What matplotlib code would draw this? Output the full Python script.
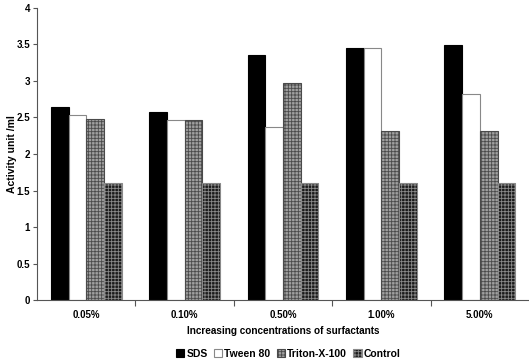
import matplotlib
matplotlib.use("Agg")
import matplotlib.pyplot as plt
import numpy as np

categories = ["0.05%", "0.10%", "0.50%", "1.00%", "5.00%"]
series_names = ["SDS", "Tween 80", "Triton-X-100", "Control"]
sds = [2.65, 2.58, 3.35, 3.45, 3.49]
tween = [2.54, 2.47, 2.37, 3.45, 2.82]
triton = [2.48, 2.47, 2.97, 2.32, 2.31]
control = [1.6, 1.6, 1.6, 1.6, 1.6]

plt.rcParams['font.family'] = ['Liberation Sans', 'DejaVu Sans']
plt.rcParams['hatch.linewidth'] = 0.6

fig = plt.figure(figsize=(5.29, 3.59), dpi=100)
ax = fig.add_axes([0.070, 0.164, 0.930, 0.814])

x = np.arange(len(categories))
w = 0.18
styles = [
    dict(facecolor="black", edgecolor="black", hatch=None),
    dict(facecolor="white", edgecolor="#888888", hatch=None),
    dict(facecolor="#a0a0a0", edgecolor="#4a4a4a", hatch="+++++"),
    dict(facecolor="#1a1a1a", edgecolor="#8a8a8a", hatch="+++++"),
]
data = [sds, tween, triton, control]
bars = []
for i, (vals, st) in enumerate(zip(data, styles)):
    b = ax.bar(x + (i - 1.5) * w, vals, w, facecolor=st["facecolor"],
               edgecolor=st["edgecolor"], hatch=st["hatch"], linewidth=0.8,
               label=series_names[i])
    bars.append(b)

ax.set_xlim(-0.5, len(categories) - 0.5)
ax.set_ylim(0, 4)
ax.set_yticks(np.arange(0, 4.01, 0.5))
ax.set_yticklabels(["0", "0.5", "1", "1.5", "2", "2.5", "3", "3.5", "4"],
                   fontsize=7, fontweight="bold")
ax.set_xticks(np.arange(0.5, len(categories) - 0.5, 1.0))
ax.set_xticklabels([])
ax.set_xticks(x, minor=True)
ax.set_xticklabels(categories, minor=True, fontsize=7, fontweight="bold")
ax.tick_params(axis="x", which="minor", length=0, pad=7)
ax.tick_params(axis="x", which="major", length=4, direction="out", color="#555555")
ax.tick_params(axis="y", length=3, direction="out", color="#555555", pad=2)
for s in ["top", "right"]:
    ax.spines[s].set_visible(False)
for s in ["left", "bottom"]:
    ax.spines[s].set_color("#555555")
    ax.spines[s].set_linewidth(0.8)

fig.text(12 / 529, 0.57, "Activity unit /ml", rotation=90, fontsize=7.5,
         fontweight="bold", ha="center", va="center")
fig.text(0.535, 1 - 331 / 359, "Increasing concentrations of surfactants",
         fontsize=7.2, fontweight="bold", ha="center", va="center")

leg = fig.legend(handles=bars, labels=series_names, loc="center",
                 bbox_to_anchor=(0.545, 1 - 354 / 359), ncol=4, frameon=False,
                 prop=dict(size=7.5, weight="bold"), handlelength=0.8,
                 handleheight=0.8, handletextpad=0.2, columnspacing=0.6,
                 borderpad=0)

fig.savefig("out.png", dpi=100)
